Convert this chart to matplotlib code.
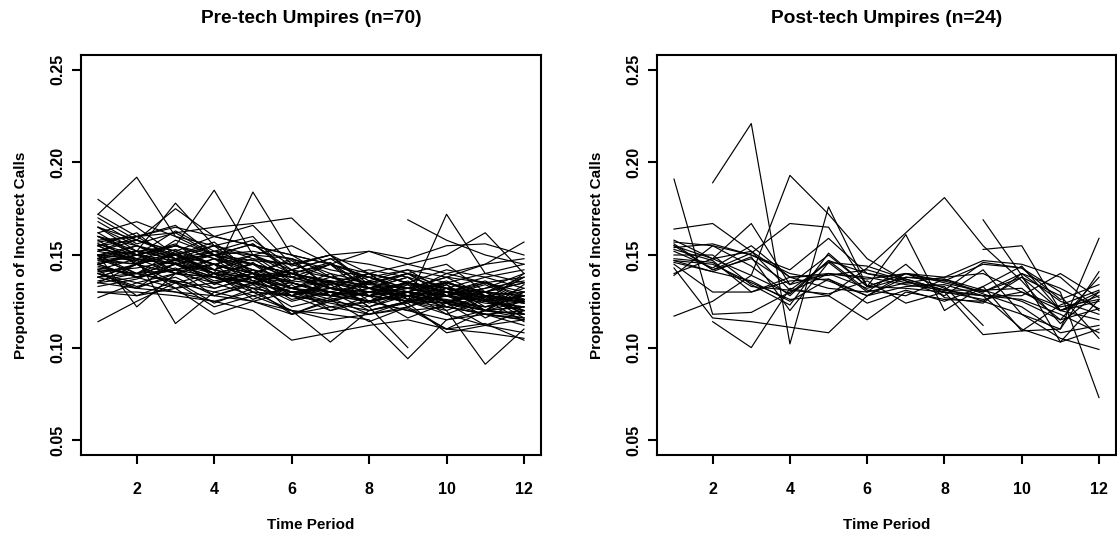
import numpy as np
import matplotlib
matplotlib.use('Agg')
import matplotlib.pyplot as plt

nan = np.nan
periodos = list(range(1, 13))

# Proporcion de llamadas incorrectas (milesimas) por arbitro, pre-tecnologia
pre_tech = [
    [180, 165, 150, 142, 138, 130, 128, 125, 120, 122, 118, 120],
    [114, 125, 135, 140, 138, 132, 130, 128, 125, 124, 120, 118],
    [172, 192, 160, 150, 145, 140, 132, 130, 128, 126, 122, 125],
    [150, 148, 113, 130, 135, 130, 128, 132, 126, 124, 120, 122],
    [145, 150, 155, 185, 150, 140, 135, 132, 130, 128, 126, 124],
    [160, 155, 150, 140, 184, 150, 138, 135, 132, 130, 128, 126],
    [158, 160, 162, 165, 167, 170, 150, 140, 135, 132, 130, 128],
    [140, 135, 130, 125, 120, 104, 108, 112, 115, 110, 108, 105],
    [148, 145, 140, 138, 130, 120, 103, 120, 125, 122, 118, 115],
    [135, 132, 130, 128, 125, 120, 118, 115, 94, 115, 120, 118],
    [nan, nan, nan, nan, nan, nan, nan, nan, 169, 158, 150, 145],
    [142, 140, 145, 138, 135, 130, 132, 128, 125, 172, 140, 135],
    [150, 148, 145, 140, 138, 135, 130, 128, 125, 120, 91, 110],
    [138, 140, 142, 145, 140, 138, 135, 140, 145, 150, 162, 140],
    [130, 128, 132, 135, 138, 140, 136, 134, 132, 138, 145, 157],
    [140, 133, 138, 128, 134, 122, 127, 118, 121, 110, 113, 104],
    [145, 138, 143, 132, 138, 126, 130, 120, 124, 108, 112, 108],
    [155, 146, 151, 140, 145, 132, 136, 122, 100, nan, nan, nan],
    [165, 152, 178, 155, 160, 138, 145, 128, 136, 122, 128, 118],
    [170, 158, 175, 160, 166, 145, 150, 132, 138, 124, 130, 120],
    [162, 150, 156, 142, 150, 136, 145, 132, 140, 128, 135, 125],
    [152, 160, 148, 155, 140, 147, 132, 140, 126, 134, 120, 130],
    [148, 140, 152, 138, 146, 132, 140, 125, 134, 120, 128, 116],
    [155, 162, 145, 150, 136, 142, 128, 136, 122, 130, 116, 126],
    [150, 138, 148, 134, 142, 128, 136, 122, 130, 118, 126, 114],
    [145, 152, 140, 148, 134, 142, 128, 136, 124, 132, 120, 134],
    [140, 132, 146, 136, 140, 128, 134, 124, 130, 136, 126, 138],
    [158, 145, 150, 157, 140, 148, 132, 140, 126, 134, 122, 128],
    [135, 145, 132, 140, 126, 134, 120, 128, 116, 124, 112, 120],
    [160, 150, 163, 152, 158, 144, 150, 134, 140, 128, 134, 124],
    [142, 128, 136, 124, 132, 118, 126, 114, 122, 110, 120, 116],
    [168, 156, 162, 150, 156, 142, 148, 136, 142, 130, 136, 126],
    [150, 122, 140, 145, 130, 128, 125, 130, 135, 125, 122, 128],
    [138, 145, 150, 140, 135, 125, 130, 135, 128, 132, 125, 122],
    [152, 148, 140, 135, 128, 120, 115, 118, 122, 128, 120, 125],
    [165, 158, 152, 160, 155, 150, 145, 152, 148, 155, 156, 150],
    [145, 150, 155, 148, 142, 138, 132, 128, 135, 130, 125, 140],
    [130, 130, 128, 125, 130, 128, 132, 128, 130, 125, 128, 130],
    [127, 135, 140, 138, 132, 135, 130, 125, 128, 122, 118, 115],
    [155, 158, 152, 145, 140, 132, 128, 130, 125, 128, 120, 122],
    [148, 155, 148, 140, 145, 138, 132, 128, 132, 138, 135, 130],
    [172, 160, 166, 150, 156, 140, 146, 132, 138, 124, 130, 118],
    [136, 140, 148, 152, 150, 142, 148, 145, 140, 135, 130, 135],
    [144, 138, 142, 128, 135, 140, 135, 130, 135, 132, 138, 142],
    [160, 150, 145, 138, 132, 128, 135, 140, 135, 128, 130, 125],
    [150, 152, 148, 142, 148, 145, 138, 132, 128, 130, 125, 120],
    [138, 132, 140, 145, 138, 130, 125, 122, 128, 135, 130, 138],
    [146, 150, 145, 135, 140, 135, 130, 125, 120, 115, 118, 112],
    [155, 145, 150, 140, 135, 130, 128, 132, 130, 125, 120, 118],
    [142, 148, 155, 150, 145, 140, 135, 130, 132, 128, 132, 136],
    [150, 140, 135, 130, 125, 118, 122, 125, 130, 135, 140, 145],
    [165, 155, 145, 150, 142, 135, 128, 125, 130, 140, 145, 148],
    [140, 145, 135, 122, 128, 132, 138, 142, 138, 132, 128, 124],
    [157, 160, 165, 160, 155, 150, 145, 140, 135, 130, 125, 128],
    [148, 152, 150, 145, 138, 132, 126, 130, 135, 142, 138, 132],
    [135, 138, 142, 148, 145, 140, 132, 130, 125, 118, 112, 115],
    [153, 150, 147, 150, 152, 148, 140, 135, 140, 145, 130, 128],
    [162, 168, 160, 155, 150, 148, 142, 138, 130, 125, 120, 130],
    [143, 140, 136, 132, 138, 142, 138, 132, 128, 125, 130, 135],
    [150, 155, 148, 150, 147, 145, 150, 152, 145, 140, 135, 138],
    [138, 145, 158, 150, 140, 132, 128, 135, 140, 132, 126, 120],
    [156, 150, 142, 138, 135, 140, 145, 138, 132, 135, 128, 126],
    [145, 138, 132, 118, 125, 130, 122, 118, 125, 130, 135, 128],
    [147, 145, 150, 155, 148, 135, 130, 128, 125, 128, 125, 132],
    [160, 152, 155, 148, 140, 136, 134, 138, 142, 138, 128, 124],
    [133, 137, 145, 142, 136, 128, 120, 125, 130, 128, 132, 140],
    [152, 158, 150, 145, 150, 155, 145, 138, 132, 128, 124, 122],
    [141, 143, 147, 140, 132, 128, 124, 120, 125, 135, 128, 126],
    [149, 147, 153, 145, 140, 118, 125, 130, 128, 124, 118, 116],
    [156, 148, 145, 152, 145, 140, 136, 132, 134, 130, 127, 125],
]

# Post-tecnologia
post_tech = [
    [191, 118, 119, 130, 140, 132, 138, 137, 131, 125, 115, 121],
    [nan, 189, 221, 102, 176, 133, 140, 135, 130, 138, 120, 128],
    [117, 125, 139, 193, 172, 148, 136, 130, 128, 126, 118, 108],
    [164, 167, 152, 138, 132, 130, 135, 138, 140, 130, 122, 126],
    [157, 155, 150, 140, 136, 128, 140, 132, 125, 118, 105, 99],
    [155, 142, 148, 134, 150, 133, 161, 120, 133, 144, 120, 130],
    [147, 145, 135, 126, 128, 143, 162, 181, 155, 136, 113, 130],
    [143, 116, 114, 111, 108, 128, 138, 136, 130, 140, 125, 118],
    [nan, 114, 100, 132, 128, 115, 130, 126, 125, 138, 128, 105],
    [140, 148, 167, 134, 140, 138, 134, 131, 128, 110, 103, 110],
    [156, 142, 151, 167, 165, 133, 132, 130, 126, 130, 120, 125],
    [154, 156, 150, 142, 159, 140, 137, 131, 146, 143, 126, 134],
    [148, 146, 133, 131, 129, 136, 124, 130, 107, 109, 110, 141],
    [158, 148, 139, 129, 147, 140, 135, 133, 112, nan, nan, nan],
    [nan, nan, nan, nan, nan, nan, nan, nan, 169, 139, 103, 126],
    [nan, nan, nan, nan, nan, nan, nan, nan, 153, 155, 120, 115],
    [150, 150, 134, 123, 151, 133, 140, 136, 145, 143, 130, 73],
    [145, 130, 130, 138, 139, 142, 136, 128, 142, 118, 110, 159],
    [152, 143, 155, 138, 140, 137, 140, 138, 147, 145, 138, 120],
    [146, 141, 149, 120, 146, 144, 137, 131, 131, 132, 115, 138],
    [153, 147, 130, 136, 137, 128, 133, 134, 128, 128, 140, 127],
    [147, 141, 136, 125, 137, 124, 131, 125, 133, 109, 123, 131],
    [155, 148, 152, 131, 146, 130, 145, 127, 124, 140, 132, 121],
    [139, 155, 144, 128, 147, 131, 128, 137, 129, 122, 108, 112],
]

titulos = ['Pre-tech Umpires (n=70)', 'Post-tech Umpires (n=24)']
yticks = [0.05, 0.10, 0.15, 0.20, 0.25]
xticks = [2, 4, 6, 8, 10, 12]

plt.rcParams['font.family'] = 'Liberation Sans'
plt.rcParams['font.weight'] = 'bold'

fig = plt.figure(figsize=(11.17, 5.39), dpi=100)
W, H = 1117, 539
posiciones = [(81, 541), (657, 1116)]

for (x0, x1), datos, titulo in zip(posiciones, [pre_tech, post_tech], titulos):
    ax = fig.add_axes([x0 / W, (H - 455) / H, (x1 - x0) / W, (455 - 55) / H])
    for fila in datos:
        ax.plot(periodos, np.array(fila) / 1000.0, color='black', lw=0.85)
    ax.set_xlim(0.56, 12.44)
    ax.set_ylim(0.042, 0.258)
    ax.set_xticks(xticks)
    ax.set_yticks(yticks)
    ax.set_yticklabels(['%.2f' % v for v in yticks], rotation=90, va='center')
    ax.tick_params(length=6.5, width=1.5, labelsize=11.5)
    ax.tick_params(axis='x', pad=13)
    ax.tick_params(axis='y', pad=5)
    for s in ax.spines.values():
        s.set_linewidth(1.5)
    ax.set_title(titulo, fontsize=13.8, fontweight='bold', pad=23)
    ax.set_xlabel('Time Period', fontsize=11, fontweight='bold', labelpad=15)
    ax.set_ylabel('Proportion of Incorrect Calls', fontsize=11,
                  fontweight='bold', labelpad=16)

plt.savefig('out.png', dpi=100)
